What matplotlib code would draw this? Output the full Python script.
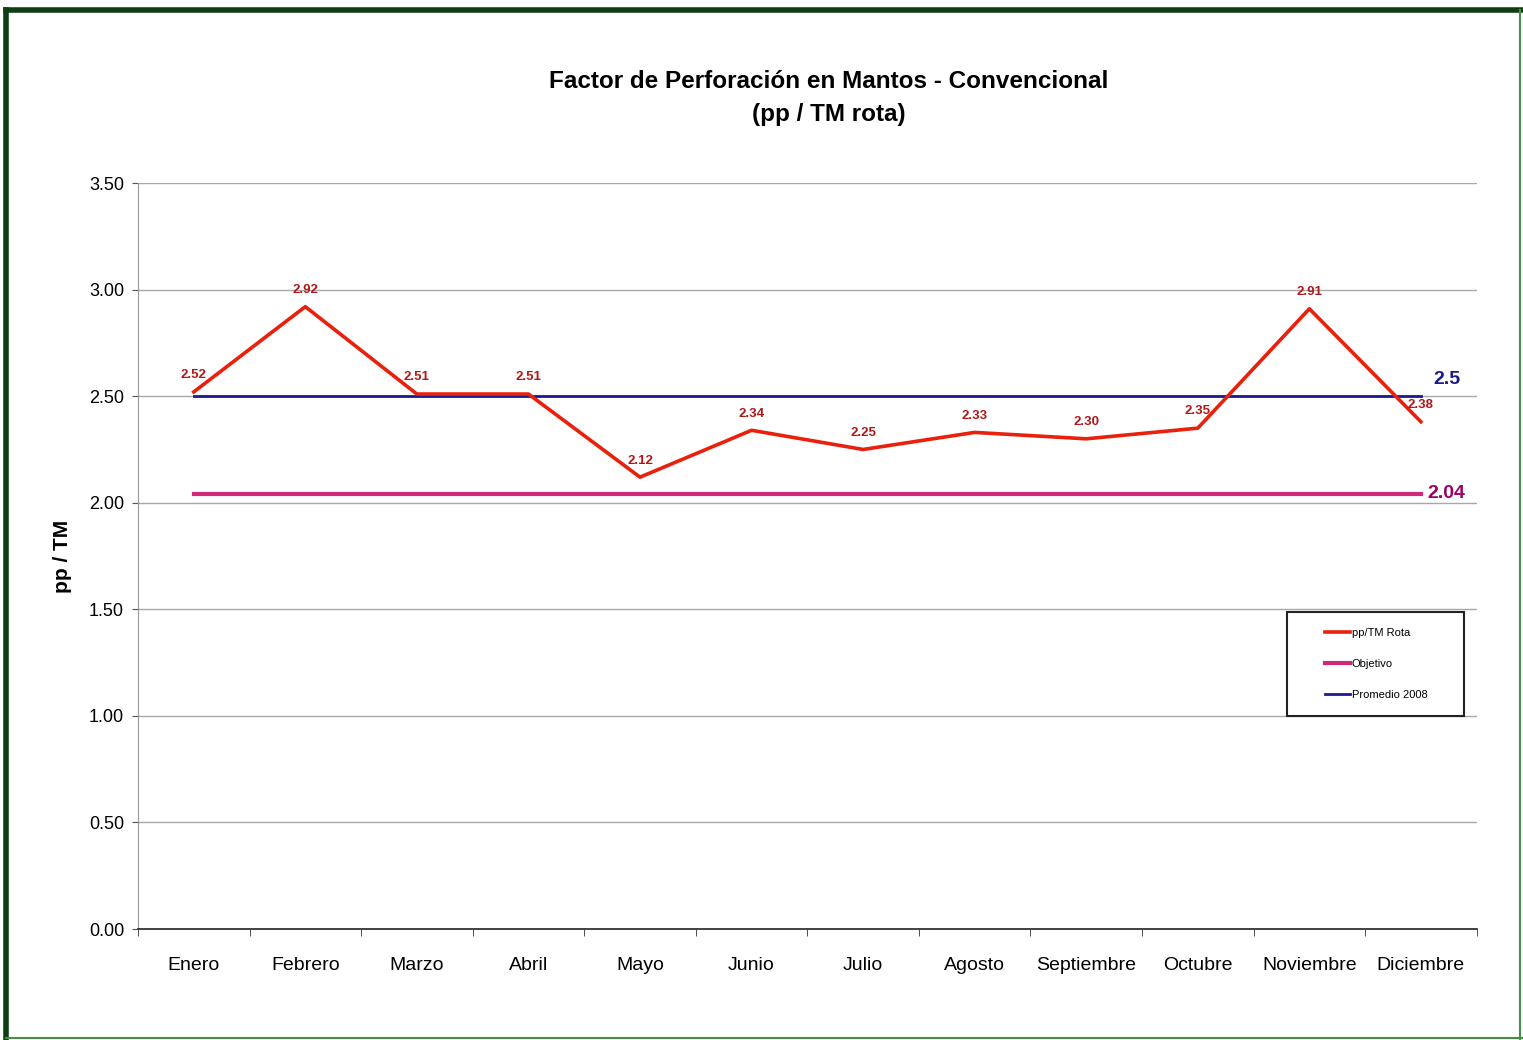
import matplotlib
matplotlib.use("Agg")
import matplotlib.pyplot as plt
from matplotlib.lines import Line2D
from matplotlib.patches import Rectangle

plt.rcParams['font.family'] = ['Liberation Sans', 'DejaVu Sans']

# Data
meses = ['Enero', 'Febrero', 'Marzo', 'Abril', 'Mayo', 'Junio', 'Julio',
         'Agosto', 'Septiembre', 'Octubre', 'Noviembre', 'Diciembre']
pp_tm_rota = [2.52, 2.92, 2.51, 2.51, 2.12, 2.34, 2.25, 2.33, 2.30, 2.35, 2.91, 2.38]
objetivo = [2.04] * 12
promedio_2008 = [2.5] * 12
yticks = [0.0, 0.5, 1.0, 1.5, 2.0, 2.5, 3.0, 3.5]

fig = plt.figure(figsize=(15.23, 10.40), dpi=100)
ax = fig.add_axes([0.0906, 0.1067, 0.879, 0.7173])

x = list(range(len(meses)))

# Lines
ax.plot(x, promedio_2008, color='#1a1a8c', lw=2, zorder=3)
ax.plot(x, objetivo, color='#d2287a', lw=3, zorder=3)
ax.plot(x, pp_tm_rota, color='#e8200c', lw=2.6, zorder=4)

# Data labels
for xi, v in zip(x, pp_tm_rota):
    ax.text(xi, v + 0.05, f'{v:.2f}', color='#b01818', fontsize=9.5,
            fontweight='bold', ha='center', va='bottom', zorder=5)

ax.text(11.23, promedio_2008[-1] + 0.04, '2.5', color='#1a1a8c', fontsize=14,
        fontweight='bold', ha='center', va='bottom')
ax.text(11.23, objetivo[-1] + 0.005, '2.04', color='#990066', fontsize=14,
        fontweight='bold', ha='center', va='center')

# Axes styling
ax.set_xlim(-0.5, 11.5)
ax.set_ylim(0, 3.5)
ax.set_yticks(yticks)
ax.set_yticklabels([f'{t:.2f}' for t in yticks], fontsize=13)
ax.set_xticks(x)
ax.set_xticklabels(meses, fontsize=14)
ax.set_xticks([i + 0.5 for i in range(-1, 12)], minor=True)
ax.tick_params(axis='x', which='major', length=0, pad=20)
ax.tick_params(axis='x', which='minor', length=5, direction='out', color='#333333')
ax.tick_params(axis='y', length=4, color='#555555', pad=6)
ax.grid(axis='y', color='#a8a8a8', lw=1)
ax.set_axisbelow(True)
for s in ['top', 'right']:
    ax.spines[s].set_visible(False)
ax.spines['left'].set_color('#999999')
ax.spines['bottom'].set_color('#333333')
ax.spines['bottom'].set_linewidth(1.3)

ax.set_ylabel('pp / TM', fontsize=15, fontweight='bold', labelpad=12)

fig.text(0.544, 0.922, 'Factor de Perforación en Mantos - Convencional',
         fontsize=17.5, fontweight='bold', ha='center', va='center')
fig.text(0.544, 0.890, '(pp / TM rota)', fontsize=17.5, fontweight='bold',
         ha='center', va='center')

# Legend (box drawn separately)
ax.add_patch(Rectangle((0.858, 0.2855), 0.1328, 0.1394, transform=ax.transAxes,
                       fill=True, facecolor='white', edgecolor='#222222',
                       lw=1.5, zorder=6))
handles = [Line2D([], [], color='#e8200c', lw=2.6),
           Line2D([], [], color='#d2287a', lw=3),
           Line2D([], [], color='#1a1a8c', lw=2)]
leg = ax.legend(handles, ['pp/TM Rota', 'Objetivo', 'Promedio 2008'],
                loc='center left', bbox_to_anchor=(0.8866, 0.355),
                fontsize=8, frameon=False, handlelength=2.3,
                handletextpad=0.1, labelspacing=1.9, borderpad=0,
                borderaxespad=0)
leg.set_zorder(7)

# Outer frame
fig.add_artist(Line2D([0.004, 0.004], [0.0, 0.99], color='#0f3d12', lw=4,
                      transform=fig.transFigure))
fig.add_artist(Line2D([0.004, 1.0], [0.99, 0.99], color='#0f3d12', lw=4,
                      transform=fig.transFigure))
fig.add_artist(Line2D([0.998, 0.998], [0.0, 0.99], color='#4a8c4a', lw=1.5,
                      transform=fig.transFigure))
fig.add_artist(Line2D([0.004, 1.0], [0.002, 0.002], color='#4a8c4a', lw=1.5,
                      transform=fig.transFigure))

fig.savefig('out.png', dpi=100)
